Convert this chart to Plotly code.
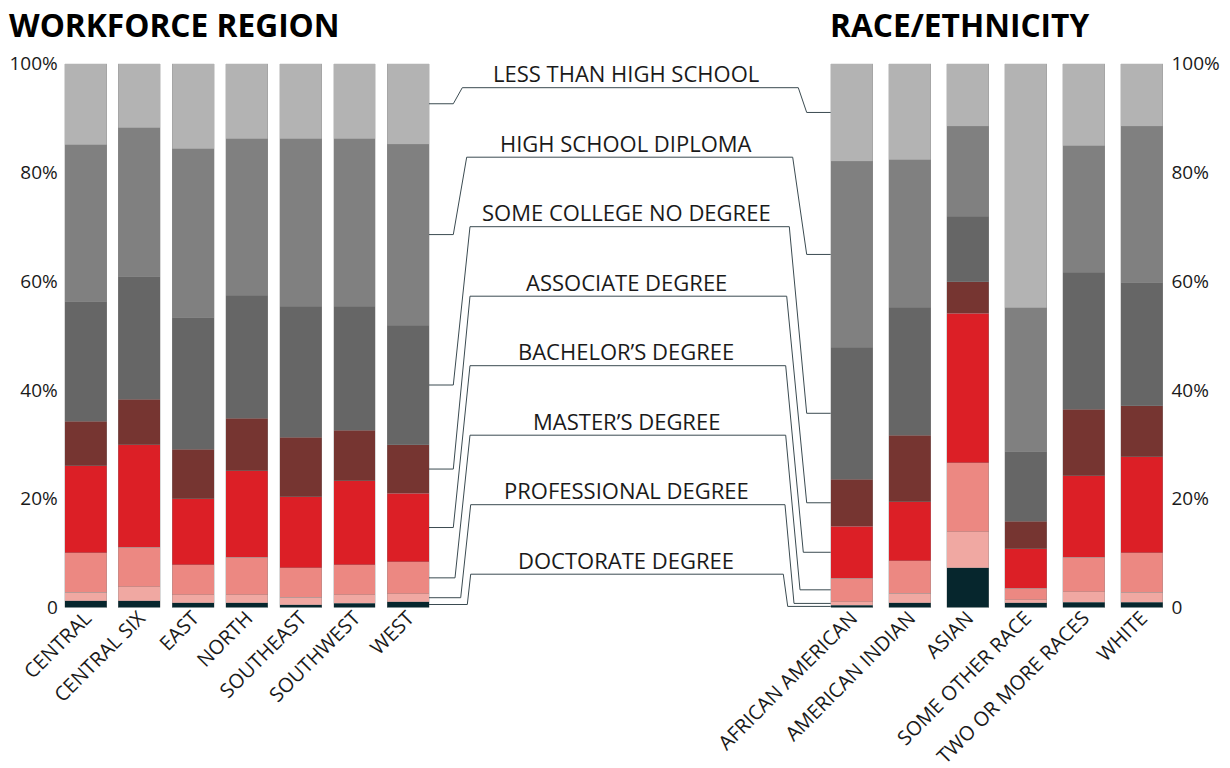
import plotly.graph_objects as go
import numpy as np

# ---------------- DATA ----------------
regions = ["CENTRAL", "CENTRAL SIX", "EAST", "NORTH", "SOUTHEAST", "SOUTHWEST", "WEST"]
races = ["AFRICAN AMERICAN", "AMERICAN INDIAN", "ASIAN", "SOME OTHER RACE",
         "TWO OR MORE RACES", "WHITE"]

# education levels, stacked from bottom to top
levels = ["DOCTORATE DEGREE", "PROFESSIONAL DEGREE", "MASTER\u2019S DEGREE",
          "BACHELOR\u2019S DEGREE", "ASSOCIATE DEGREE", "SOME COLLEGE NO DEGREE",
          "HIGH SCHOOL DIPLOMA", "LESS THAN HIGH SCHOOL"]

# percent of workforce, per region (order of `regions`)
reg_doctorate    = [1.2, 1.2, 0.9, 0.9, 0.5, 0.8, 1.1]
reg_professional = [1.65, 2.6, 1.4, 1.4, 1.4, 1.5, 1.4]
reg_master       = [7.25, 7.3, 5.6, 6.9, 5.4, 5.6, 5.9]
reg_bachelor     = [16.0, 18.8, 12.1, 15.9, 13.1, 15.4, 12.6]
reg_associate    = [8.1, 8.4, 9.1, 9.7, 10.9, 9.3, 8.9]
reg_somecollege  = [22.0, 22.5, 24.2, 22.6, 24.1, 22.8, 22.0]
reg_highschool   = [28.9, 27.4, 31.0, 28.8, 30.8, 30.8, 33.3]
reg_lessthanhs   = [14.9, 11.8, 15.7, 13.8, 13.8, 13.8, 14.8]

# percent of workforce, per race/ethnicity (order of `races`)
race_doctorate    = [0.4, 0.9, 7.3, 0.9, 1.0, 1.0]
race_professional = [0.7, 1.7, 6.6, 0.5, 1.9, 1.8]
race_master       = [4.3, 6.0, 12.7, 2.1, 6.3, 7.3]
race_bachelor     = [9.5, 10.8, 27.5, 7.3, 15.0, 17.6]
race_associate    = [8.7, 12.3, 5.8, 5.1, 12.2, 9.4]
race_somecollege  = [24.2, 23.5, 12.0, 12.7, 25.2, 22.6]
race_highschool   = [34.2, 27.1, 16.6, 26.5, 23.3, 28.8]
race_lessthanhs   = [18.0, 17.7, 11.5, 44.9, 15.1, 11.5]

y_tickvals = [0, 20, 40, 60, 80, 100]
y_ticktext = ["0", "20%", "40%", "60%", "80%", "100%"]

# ---------------- STYLE ----------------
colors = ["#06262d", "#f0a8a2", "#ec8882", "#dc1f26", "#763531",
          "#666666", "#808080", "#b3b3b3"]
FONT = "Open Sans"
TXT = "#1a1a1a"
W, H = 1230, 768

reg_series = [reg_doctorate, reg_professional, reg_master, reg_bachelor,
              reg_associate, reg_somecollege, reg_highschool, reg_lessthanhs]
race_series = [race_doctorate, race_professional, race_master, race_bachelor,
               race_associate, race_somecollege, race_highschool, race_lessthanhs]

fig = go.Figure()
for lvl, col, vals in zip(levels, colors, reg_series):
    fig.add_trace(go.Bar(x=regions, y=vals, name=lvl, width=0.78,
                         marker=dict(color=col, line=dict(width=0.6, color="rgba(140,140,140,0.55)")),
                         xaxis="x", yaxis="y", showlegend=False))
for lvl, col, vals in zip(levels, colors, race_series):
    fig.add_trace(go.Bar(x=races, y=vals, name=lvl, width=0.724,
                         marker=dict(color=col, line=dict(width=0.6, color="rgba(140,140,140,0.55)")),
                         xaxis="x2", yaxis="y2", showlegend=False))

# y-axis geometry (pixels)
y0_px, y100_px = 607.5, 63.5
ydom = [1 - y0_px / H, 1 - y100_px / H]
px_per_unit = (y0_px - y100_px) / 100.0

def px_to_val(py):
    return (y0_px - py) / px_per_unit

# ---------------- connectors ----------------
west = [s[-1] for s in reg_series]
aa = [s[0] for s in race_series]
west_mid = np.cumsum(west) - np.array(west) / 2
aa_mid = np.cumsum(aa) - np.array(aa) / 2

label_top_px = 87.7
label_step_px = 69.5
left_edge, right_edge = 429.0, 830.7
kinkL = [453.3, 453.3, 453.3, 453.3, 453.3, 455.0, 460.7, 467.3]
topL = [462.3, 466.7, 470.0, 470.0, 470.0, 470.0, 470.7, 470.7]
topR = [798.3, 792.7, 789.3, 786.7, 785.7, 785.7, 785.0, 783.3]
kinkR = [806.7, 806.7, 806.7, 806.7, 803.3, 800.0, 794.0, 787.7]

n = len(levels)
for k in range(n):
    i = n - 1 - k  # top (less than HS) first
    yT = px_to_val(label_top_px + k * label_step_px)
    yL = west_mid[i]
    yR = aa_mid[i]
    pts = [(left_edge, yL), (kinkL[k], yL), (topL[k], yT), (topR[k], yT),
           (kinkR[k], yR), (right_edge, yR)]
    path = "M " + " L ".join(f"{x / W:.5f},{y:.4f}" for x, y in pts)
    fig.add_shape(type="path", path=path, xref="paper", yref="y",
                  line=dict(color="#3b4b51", width=1))
    fig.add_annotation(text=levels[i], x=626 / W, xref="paper", xanchor="center",
                       y=yT + 14.5 / px_per_unit, yref="y", yanchor="middle",
                       showarrow=False, font=dict(family=FONT, size=22, color=TXT))

# ---------------- titles ----------------
fig.add_annotation(text="<b>WORKFORCE REGION</b>", x=7 / W, xref="paper", xanchor="left",
                   y=1 - 24 / H, yref="paper", yanchor="middle", showarrow=False,
                   font=dict(family=FONT, size=31.7, color="#000000"))
fig.add_annotation(text="<b>RACE/ETHNICITY</b>", x=828 / W, xref="paper", xanchor="left",
                   y=1 - 24 / H, yref="paper", yanchor="middle", showarrow=False,
                   font=dict(family=FONT, size=31.7, color="#000000"))

axis_common = dict(showgrid=False, zeroline=False, showline=False, ticks="",
                   automargin=False)
xcat_common = dict(tickangle=-45, ticklabelstandoff=-6,
                   tickfont=dict(family=FONT, size=20, color=TXT))
fig.update_layout(
    template="none",
    width=W, height=H,
    margin=dict(l=0, r=0, t=0, b=0, pad=0),
    paper_bgcolor="white", plot_bgcolor="white",
    barmode="stack",
    font=dict(family=FONT, color=TXT),
    xaxis=dict(domain=[58.8 / W, 435.1 / W], anchor="y", **xcat_common, **axis_common),
    yaxis=dict(domain=ydom, range=[0, 100], anchor="x", side="left",
               tickvals=y_tickvals, ticktext=y_ticktext,
               tickfont=dict(family=FONT, size=19, color=TXT), **axis_common),
    xaxis2=dict(domain=[822.5 / W, 1170.5 / W], anchor="y2", **xcat_common, **axis_common),
    yaxis2=dict(domain=ydom, range=[0, 100], anchor="x2", side="right",
                tickvals=y_tickvals, ticktext=y_ticktext,
                tickfont=dict(family=FONT, size=19, color=TXT), **axis_common),
)

fig.write_html("out.html", config={"displayModeBar": False},
               post_script="document.body.style.margin='0px';document.body.style.padding='0px';")
